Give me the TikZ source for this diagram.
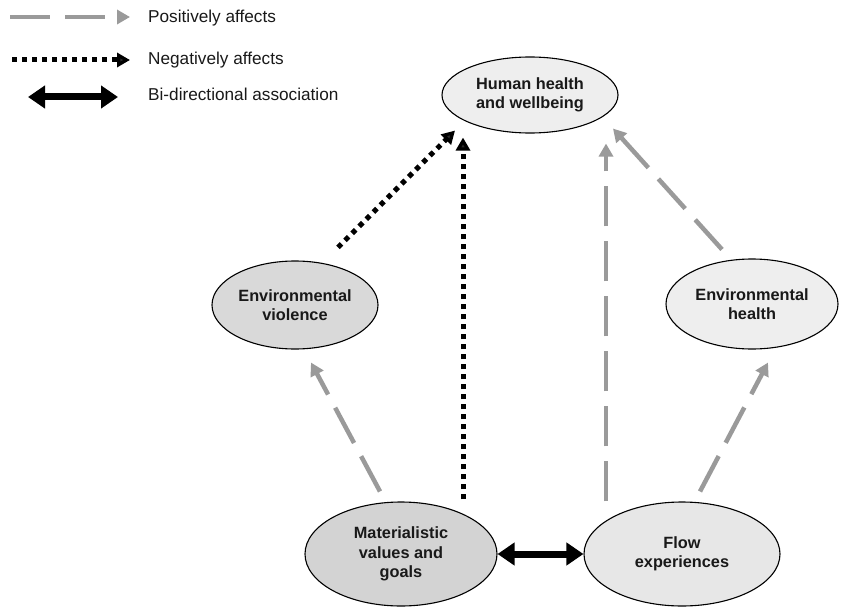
\documentclass[tikz,border=0pt]{standalone}
\usepackage{fontspec}
\setmainfont{Liberation Sans}
\usetikzlibrary{arrows.meta,shapes.geometric}
\definecolor{posgray}{HTML}{9A9A9A}
\definecolor{lightfill}{HTML}{EEEEEE}
\definecolor{midfill}{HTML}{D9D9D9}
\definecolor{darkfill}{HTML}{D3D3D3}
\definecolor{tipdark}{HTML}{2A2A2A}
\begin{document}
\begin{tikzpicture}[x=1pt,y=-1pt,
  ell/.style={ellipse, draw=black, line width=1.1pt, inner sep=0pt, align=center,
    font=\fontsize{16.3}{19.5}\selectfont\bfseries, text=black!90},
  posarrow/.style={draw=posgray, line width=4.5pt, line cap=butt, dash pattern=on 40pt off 15pt,
    -{Triangle[length=13pt,width=14pt,fill=posgray]}},
  negarrow/.style={draw=black, line width=5pt, line cap=butt, dash pattern=on 5pt off 5pt,
    -{Triangle[length=13pt,width=14pt,fill=tipdark]}},
  bidarrow/.style={draw=black, line width=7pt,
    {Triangle[length=17pt,width=22pt]}-{Triangle[length=17pt,width=22pt]}},
  legtext/.style={anchor=base west, inner sep=0pt, font=\fontsize{17.2}{20}\selectfont, text=black!90}]

\useasboundingbox[fill=white] (0,0) rectangle (854,607);

% legend
\coordinate (l1a) at (10,17);  \coordinate (l1b) at (130,17);
\coordinate (l2a) at (12,60);  \coordinate (l2b) at (130,60);
\coordinate (l3a) at (28,97);  \coordinate (l3b) at (118,97);
\draw[posarrow] (l1a) -- (l1b);
\draw[negarrow] (l2a) -- (l2b);
\draw[bidarrow] (l3a) -- (l3b);
\node[legtext] (t1) at (148,23) {Positively affects};
\node[legtext] (t2) at (148,65) {Negatively affects};
\node[legtext] (t3) at (148,101) {Bi-directional association};

% nodes
\node[ell, fill=lightfill, minimum width=176pt, minimum height=76pt] (hum) at (530,95) {Human health\\and wellbeing};
\node[ell, fill=midfill, minimum width=166pt, minimum height=88pt] (viol) at (295,305) {Environmental\\violence};
\node[ell, fill=lightfill, minimum width=172pt, minimum height=90pt] (envh) at (752,304) {Environmental\\health};
\node[ell, fill=darkfill, minimum width=192pt, minimum height=104pt] (mat) at (401,554) {Materialistic\\values and\\goals};
\node[ell, fill=lightfill!97!black, minimum width=196pt, minimum height=104pt] (flow) at (682,554) {Flow\\experiences};

% connectors
\draw[negarrow] ([shift={(43,-13)}]viol.north) -- ([shift={(-75,-3)}]hum.south);
\draw[negarrow] ([shift={(62,-2)}]mat.north) -- ([shift={(-67,4)}]hum.south);
\draw[posarrow] ([shift={(-76,0)}]flow.north) -- ([shift={(76,10)}]hum.south);
\draw[posarrow] ([shift={(-30,-9)}]envh.north) -- ([shift={(83,-5)}]hum.south);
\draw[posarrow] ([shift={(-21,-10)}]mat.north) -- ([shift={(16,13)}]viol.south);
\draw[posarrow] ([shift={(18,-10)}]flow.north) -- ([shift={(16,13)}]envh.south);
\draw[bidarrow] (mat.east) -- (flow.west);
\end{tikzpicture}
\end{document}
